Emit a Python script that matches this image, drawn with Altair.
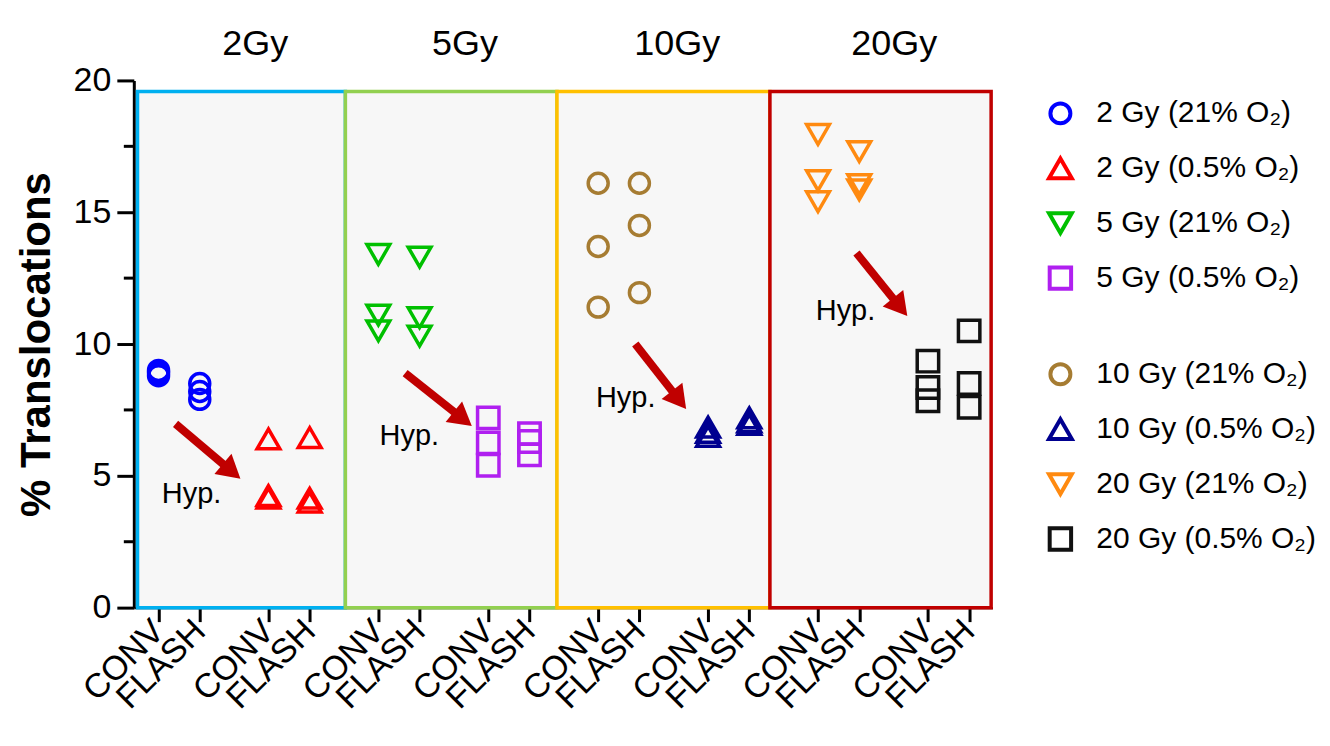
import math
import altair as alt
import pandas as pd

# ---------------- data ----------------
series = ["2 Gy (21% O₂)", "2 Gy (0.5% O₂)", "5 Gy (21% O₂)", "5 Gy (0.5% O₂)",
          "10 Gy (21% O₂)", "10 Gy (0.5% O₂)", "20 Gy (21% O₂)", "20 Gy (0.5% O₂)"]
colors = ["#0000FF", "#FF0000", "#00C000", "#B020F0",
          "#A67C32", "#000090", "#FF8A10", "#111111"]
shapes = ["circle", "triangle-up", "triangle-down", "square",
          "circle", "triangle-up", "triangle-down", "square"]

conv_vals = [[8.8, 9.0, 8.9], [6.4, 4.25, 4.15], [13.4, 11.1, 10.5], [7.2, 6.25, 5.4],
             [16.1, 13.7, 11.4], [6.85, 6.65, 6.5], [17.95, 16.2, 15.4], [9.35, 8.35, 7.85]]
flash_vals = [[8.5, 8.2, 7.9], [6.45, 4.15, 4.0], [13.3, 11.0, 10.3], [6.6, 6.3, 5.8],
              [16.1, 14.5, 11.95], [7.2, 7.05, 6.95], [17.3, 16.05, 15.85], [10.5, 8.5, 7.6]]

doses = ["2Gy", "5Gy", "10Gy", "20Gy"]
box_edges = [-1.53, 13.6, 29.0, 44.5, 60.6]
box_top = 19.58
box_colors = ["#00B0F0", "#92D050", "#FFC000", "#C00000"]

arrow_x1 = [1.24, 17.95, 34.7, 50.8]
arrow_y1 = [6.97, 8.9, 10.0, 13.45]
arrow_x2 = [5.96, 22.8, 38.4, 54.5]
arrow_y2 = [4.89, 6.89, 7.54, 11.06]
hyp_x = [2.4, 18.25, 34.0, 50.0]
hyp_y = [4.3, 6.5, 7.95, 11.25]
hyp_label = "Hyp."

# ---------------- layout constants ----------------
W, H = 860, 528
XDOM = [-1.8, 60.7]
YDOM = [0, 20]
PX_X = W / (XDOM[1] - XDOM[0])
PX_Y = H / (YDOM[1] - YDOM[0])
FONT = "Liberation Sans"
SIZE_BY_SHAPE = {"circle": 400, "square": 460, "triangle-up": 520, "triangle-down": 520}

# ---------------- tables ----------------
rows = []
for i, s in enumerate(series):
    g, o = i // 2, i % 2
    for cond, off, vals in (("CONV", 0, conv_vals[i]), ("FLASH", 3, flash_vals[i])):
        for v in vals:
            rows.append({"series": s, "x": 16 * g + 8 * o + off, "y": v,
                         "cond": cond, "sz": SIZE_BY_SHAPE[shapes[i]]})
pts = pd.DataFrame(rows)
tick_vals = sorted(set(pts["x"].tolist()))

boxes = pd.DataFrame({
    "dose": doses,
    "x0": box_edges[:-1], "x1": box_edges[1:],
    "y0": [0] * 4, "y1": [box_top] * 4,
    "bc": box_colors,
})
boxes["xc"] = (boxes["x0"] + boxes["x1"]) / 2 + 1.0

HEAD = 700
h_px = 0.866 * math.sqrt(HEAD) / 2
arr_rows = []
for k in range(4):
    dxp = (arrow_x2[k] - arrow_x1[k]) * PX_X
    dyp = (arrow_y1[k] - arrow_y2[k]) * PX_Y  # downward positive
    L = math.hypot(dxp, dyp)
    ux, uy = dxp / L, dyp / L
    hx = arrow_x2[k] - ux * h_px / PX_X
    hy = arrow_y2[k] + uy * h_px / PX_Y
    ang = math.degrees(math.atan2(dxp, -dyp)) % 360
    arr_rows.append({"x1": arrow_x1[k], "y1": arrow_y1[k], "hx": hx, "hy": hy, "ang": ang,
                     "tx": hyp_x[k], "ty": hyp_y[k], "t": hyp_label})
arrows = pd.DataFrame(arr_rows)

minor = pd.DataFrame({"y": [2.5, 7.5, 12.5, 17.5]})

xscale = alt.Scale(domain=XDOM, nice=False, zero=False)
yscale = alt.Scale(domain=YDOM, nice=False)
cscale = alt.Scale(domain=series, range=colors)
sscale = alt.Scale(domain=series, range=shapes)

xaxis = alt.Axis(values=tick_vals, labelExpr="datum.value % 8 == 0 ? 'CONV' : 'FLASH'",
                 labelAngle=-45, labelAlign="right", labelBaseline="middle",
                 labelFontSize=34, labelFont=FONT, labelColor="black", labelPadding=4,
                 tickSize=14, tickWidth=3, tickColor="black",
                 domainColor="black", domainWidth=2, grid=False, title=None, labelOverlap=False)
yaxis = alt.Axis(values=[0, 5, 10, 15, 20], labelFontSize=34, labelFont=FONT, labelColor="black",
                 labelPadding=6, tickSize=17, tickWidth=3, tickColor="black",
                 domainColor="black", domainWidth=3, grid=False,
                 title="% Translocations", titleFontSize=42, titleFont=FONT,
                 titleFontWeight="bold", titleColor="black", titlePadding=15)

box_layer = alt.Chart(boxes).mark_rect(fill="#F7F7F7", strokeWidth=3.5).encode(
    x=alt.X("x0:Q", scale=xscale, axis=xaxis),
    x2="x1:Q",
    y=alt.Y("y0:Q", scale=yscale, axis=yaxis),
    y2="y1:Q",
    stroke=alt.Stroke("bc:N", scale=None),
)

shaft = alt.Chart(arrows).mark_rule(color="#C00000", strokeWidth=8, strokeCap="butt").encode(
    x="x1:Q", y="y1:Q", x2="hx:Q", y2="hy:Q")
head = alt.Chart(arrows).mark_point(shape="triangle-up", filled=True, color="#C00000",
                                    size=HEAD, opacity=1).encode(
    x="hx:Q", y="hy:Q", angle=alt.Angle("ang:Q", scale=None))
hyp = alt.Chart(arrows).mark_text(fontSize=29, font=FONT, color="black",
                                  align="center", baseline="middle").encode(
    x="tx:Q", y="ty:Q", text="t:N")

points = alt.Chart(pts).mark_point(filled=False, strokeWidth=3.5, opacity=1).encode(
    x="x:Q", y="y:Q",
    color=alt.Color("series:N", scale=cscale, legend=None),
    shape=alt.Shape("series:N", scale=sscale, legend=None),
    size=alt.Size("sz:Q", scale=None),
)

minor_ticks = alt.Chart(minor).mark_rule(color="black", strokeWidth=3).encode(
    y="y:Q", x=alt.value(-10), x2=alt.value(0))

dose_labels = alt.Chart(boxes).mark_text(fontSize=36, font=FONT, color="black",
                                         baseline="middle", align="center").encode(
    x="xc:Q", y=alt.value(-36), text="dose:N")

main = alt.layer(box_layer, shaft, head, hyp, points, minor_ticks, dose_labels).properties(
    width=W, height=H)

# ---------------- custom legend ----------------
ROW_PX = 55
leg = pd.DataFrame({
    "series": series,
    "row": [i + 0.6 + (0.75 if i >= 4 else 0) for i in range(len(series))],
    "sz": [SIZE_BY_SHAPE[s] for s in shapes],
})
lyscale = alt.Scale(domain=[0, H / ROW_PX], reverse=True, nice=False, zero=False)
leg_sym = alt.Chart(leg).mark_point(filled=False, strokeWidth=4, opacity=1).encode(
    x=alt.value(47),
    y=alt.Y("row:Q", scale=lyscale, axis=None),
    color=alt.Color("series:N", scale=cscale, legend=None),
    shape=alt.Shape("series:N", scale=sscale, legend=None),
    size=alt.Size("sz:Q", scale=None),
)
leg_txt = alt.Chart(leg).mark_text(align="left", baseline="middle", fontSize=30, font=FONT,
                                   color="black").encode(
    x=alt.value(83), y=alt.Y("row:Q", scale=lyscale, axis=None), text="series:N")
legend = alt.layer(leg_sym, leg_txt).properties(width=290, height=H)

chart = alt.hconcat(main, legend, spacing=20).properties(
    padding={"left": 7, "top": 18, "right": 5, "bottom": 5}
).configure_view(stroke=None)

chart.save("out.html", embed_options={"renderer": "svg", "actions": False})
